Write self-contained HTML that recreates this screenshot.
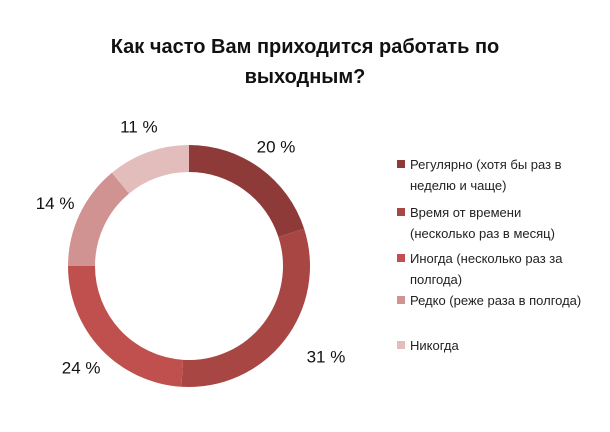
<!DOCTYPE html>
<html><head><meta charset="utf-8"><style>
body{margin:0;background:#fff;font-family:"Liberation Sans","DejaVu Sans",sans-serif}
</style></head><body>
<svg width="610" height="427" xmlns="http://www.w3.org/2000/svg">
<rect width="610" height="427" fill="#fff"/>
<text x="305" y="53" text-anchor="middle" font-size="20" font-weight="bold" fill="#111" font-family="Liberation Sans, sans-serif">Как часто Вам приходится работать по</text>
<text x="305" y="83" text-anchor="middle" font-size="20" font-weight="bold" fill="#111" font-family="Liberation Sans, sans-serif">выходным?</text>
<g id="donut"></g>
<g id="legend"></g>
</svg>
<script>
const categories=[["Регулярно (хотя бы раз в","неделю и чаще)"],["Время от времени","(несколько раз в месяц)"],["Иногда (несколько раз за","полгода)"],["Редко (реже раза в полгода)"],["Никогда"]];
const values=[20,31,24,14,11];
const valueLabels=["20 %","31 %","24 %","14 %","11 %"];
const colors=["#8E3A38","#A84644","#C0504D","#D09392","#E3BCBC"];
const NS="http://www.w3.org/2000/svg";
const cx=189,cy=266,R=121,r=94;
const g=document.getElementById('donut');
const total=values.reduce((a,b)=>a+b,0);
let acc=0;
function pt(a,rad){return [cx+rad*Math.sin(a),cy-rad*Math.cos(a)];}
values.forEach((v,i)=>{
  const a0=acc/total*2*Math.PI; acc+=v; const a1=acc/total*2*Math.PI;
  const lg=(a1-a0)>Math.PI?1:0;
  const [x0,y0]=pt(a0,R),[x1,y1]=pt(a1,R),[x2,y2]=pt(a1,r),[x3,y3]=pt(a0,r);
  const p=document.createElementNS(NS,'path');
  p.setAttribute('d',`M${x0},${y0}A${R},${R} 0 ${lg} 1 ${x1},${y1}L${x2},${y2}A${r},${r} 0 ${lg} 0 ${x3},${y3}Z`);
  p.setAttribute('fill',colors[i]);
  
  
  g.appendChild(p);
  const am=(a0+a1)/2;
  const [lx,ly]=pt(am,148);
  const t=document.createElementNS(NS,'text');
  t.setAttribute('x',lx+(Math.sin(am)>0.5&&Math.cos(am)<0?20:0));
  t.setAttribute('y',ly+6);
  t.setAttribute('text-anchor','middle');
  t.setAttribute('font-size','17');
  t.setAttribute('fill','#111');
  
  
  t.textContent=valueLabels[i];
  g.appendChild(t);
});
const lg=document.getElementById('legend');
const ly0=[165,213,259,301,346];
categories.forEach((lines,i)=>{
  const y=ly0[i];
  const s=document.createElementNS(NS,'rect');
  s.setAttribute('x',397);s.setAttribute('y',y-5);s.setAttribute('width',8);s.setAttribute('height',8);
  s.setAttribute('fill',colors[i]);
  
  
  lg.appendChild(s);
  lines.forEach((ln,j)=>{
    const t=document.createElementNS(NS,'text');
    t.setAttribute('x',410);t.setAttribute('y',y+4+j*21);
    t.setAttribute('font-size','13');t.setAttribute('fill','#222');
    
    
    t.textContent=ln;
    lg.appendChild(t);
  });
});
</script>
</body></html>
